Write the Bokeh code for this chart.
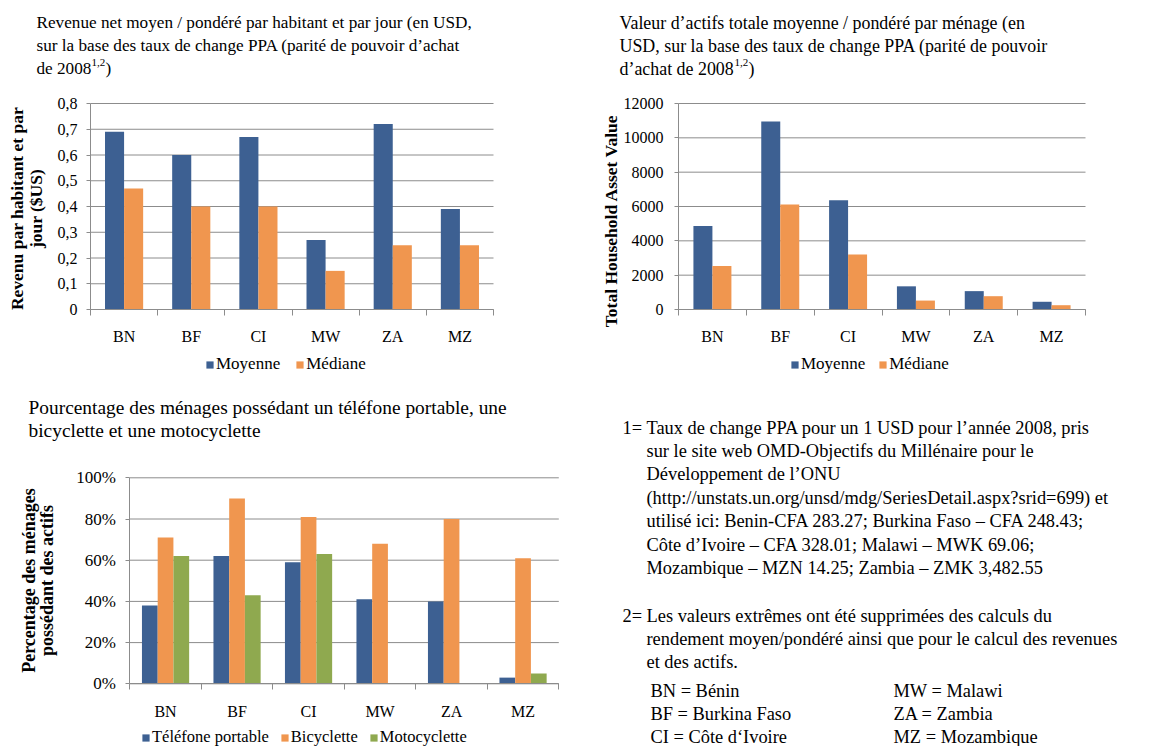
import math
from bokeh.plotting import figure
from bokeh.models import (Range1d, FixedTicker, CustomJSTickFormatter, Label,
                          Legend, LegendItem, ColumnDataSource)
from bokeh.layouts import row, column
from bokeh.embed import file_html
from bokeh.resources import INLINE

FONT = "Liberation Serif"
BLUE = "#3D6092"
ORANGE = "#F0964F"
GREEN = "#8FA94F"
GRID = "#8C8C8C"

# ---------------- data ----------------
COUNTRIES = ["BN", "BF", "CI", "MW", "ZA", "MZ"]

INCOME_MEAN = [0.69, 0.60, 0.67, 0.27, 0.72, 0.39]
INCOME_MEDIAN = [0.47, 0.40, 0.40, 0.15, 0.25, 0.25]

ASSET_MEAN = [4870, 10950, 6370, 1350, 1070, 450]
ASSET_MEDIAN = [2530, 6120, 3200, 520, 775, 250]

PHONE = [38, 62, 59, 41, 40, 3]
BICYCLE = [71, 90, 81, 68, 80, 61]
MOTORBIKE = [62, 43, 63, 0, 0, 5]

LEGEND_INCOME = ["Moyenne", "Médiane"]
LEGEND_ASSETS = ["Moyenne", "Médiane"]
LEGEND_GOODS = ["Téléfone portable", "Bicyclette", "Motocyclette"]

TITLE_INCOME = ["Revenue net moyen / pondéré par habitant et par jour (en USD,",
                "sur la base des taux de change PPA (parité de pouvoir d’achat",
                "de 2008"]
TITLE_ASSETS = ["Valeur d’actifs totale moyenne / pondéré par ménage (en",
                "USD, sur la base des taux de change PPA (parité de pouvoir",
                "d’achat de 2008"]
TITLE_GOODS = ["Pourcentage des ménages possédant un téléfone portable, une",
               "bicyclette et une motocyclette"]
SUPERSCRIPT = "1,2"

YLABEL_INCOME = ["Revenu par habitant et par", "jour ($US)"]
YLABEL_ASSETS = ["Total Household  Asset Value"]
YLABEL_GOODS = ["Percentage des ménages", "possédant des actifs"]

NOTE_1 = ["Taux de change PPA pour un 1 USD pour l’année 2008, pris",
          "sur le site web OMD-Objectifs du Millénaire pour le",
          "Développement de l’ONU",
          "(http://unstats.un.org/unsd/mdg/SeriesDetail.aspx?srid=699) et",
          "utilisé ici: Benin-CFA 283.27; Burkina Faso – CFA 248.43;",
          "Côte d’Ivoire – CFA 328.01; Malawi – MWK 69.06;",
          "Mozambique – MZN 14.25; Zambia – ZMK 3,482.55"]
NOTE_2 = ["Les valeurs extrêmes ont été supprimées des calculs du",
          "rendement moyen/pondéré ainsi que pour le calcul des revenues",
          "et des actifs."]
ABBREV_LEFT = ["BN = Bénin", "BF = Burkina Faso", "CI = Côte d‘Ivoire"]
ABBREV_RIGHT = ["MW = Malawi", "ZA = Zambia", "MZ = Mozambique"]


class Panel:
    """A figure whose frame covers the whole canvas; texts are placed in page pixels."""

    def __init__(self, origin, size, x_range=(0, 1), y_range=(0, 1)):
        self.ox, self.oy = origin
        self.w, self.h = size
        self.p = figure(width=self.w, height=self.h, x_range=Range1d(*x_range),
                        y_range=Range1d(*y_range), toolbar_location=None,
                        output_backend="svg", min_border=0)
        self.p.outline_line_color = None
        self.p.background_fill_color = "white"
        self.p.border_fill_color = "white"

    def sx(self, px):
        return px - self.ox

    def sy(self, py):
        return self.oy + self.h - py

    def text(self, px, py, text, size, bold=False, vertical=False, align="left"):
        self.p.add_layout(Label(x=self.sx(px), y=self.sy(py), x_units="screen",
                                y_units="screen", text=text, text_font=FONT,
                                text_font_size=f"{size}px",
                                text_font_style="bold" if bold else "normal",
                                text_color="black",
                                angle=math.pi / 2 if vertical else 0,
                                text_align="center" if vertical else align,
                                text_baseline="middle"))


def bar_chart(origin, size, box, y_end, y_step, y_code, series, bar_width,
              y_standoff, y_font, x_standoff, legend_pos, legend_spacing, legend_font):
    ox, oy = origin
    w, h = size
    bx0, bx1, by0, by1 = box          # page px of x=0, x=n, y=0, y=y_end
    n = len(COUNTRIES)
    kx = (bx1 - bx0) / n
    ky = (by0 - by1) / y_end
    xr = (-(bx0 - ox) / kx, n + (ox + w - bx1) / kx)
    yr = (-(oy + h - by0) / ky, y_end + (by1 - oy) / ky)
    panel = Panel(origin, size, xr, yr)
    p = panel.p

    n_ticks = int(round(y_end / y_step))
    yticks = [round(i * y_step, 6) for i in range(n_ticks + 1)]
    # horizontal gridlines over the plotting area only
    p.segment(x0=[0] * len(yticks), x1=[n] * len(yticks), y0=yticks, y1=yticks,
              line_color=GRID, line_width=1)

    m = len(series)
    items = []
    for k, (vals, color, label) in enumerate(series):
        off = (k - (m - 1) / 2) * bar_width
        src = ColumnDataSource(dict(x=[i + 0.5 + off for i in range(len(vals))], top=vals))
        r = p.vbar(x="x", top="top", bottom=0, width=bar_width, source=src,
                   fill_color=color, line_color=None)
        items.append(LegendItem(label=label, renderers=[r]))

    p.xgrid.visible = False
    p.ygrid.visible = False

    ya = p.yaxis[0]
    ya.fixed_location = 0
    ya.bounds = (0, y_end)
    ya.ticker = FixedTicker(ticks=yticks, minor_ticks=[])
    ya.formatter = CustomJSTickFormatter(code=y_code)
    ya.axis_line_color = GRID
    ya.major_tick_line_color = GRID
    ya.major_tick_out = 4
    ya.major_tick_in = 0
    ya.minor_tick_line_color = None
    ya.major_label_standoff = y_standoff
    ya.major_label_text_font = FONT
    ya.major_label_text_font_size = f"{y_font}px"
    ya.major_label_text_color = "black"

    xa = p.xaxis[0]
    xa.fixed_location = 0
    xa.bounds = (0, n)
    xa.ticker = FixedTicker(ticks=[i + 0.5 for i in range(n)],
                            minor_ticks=list(range(n + 1)))
    xa.formatter = CustomJSTickFormatter(args=dict(labels=COUNTRIES),
                                         code="return labels[Math.floor(tick)];")
    xa.axis_line_color = GRID
    xa.major_tick_line_color = None
    xa.major_tick_out = 0
    xa.major_tick_in = 0
    xa.minor_tick_line_color = GRID
    xa.minor_tick_out = 6
    xa.minor_tick_in = 0
    xa.major_label_standoff = x_standoff
    xa.major_label_text_font = FONT
    xa.major_label_text_font_size = "16px"
    xa.major_label_text_color = "black"

    lx, ly = legend_pos
    legend = Legend(items=items, orientation="horizontal",
                    location=(panel.sx(lx), panel.sy(ly + 8)),
                    glyph_width=9, glyph_height=9, label_height=16,
                    label_standoff=2, spacing=legend_spacing, padding=0, margin=0,
                    border_line_color=None, background_fill_alpha=0,
                    label_text_font=FONT, label_text_font_size=f"{legend_font}px",
                    label_text_color="black")
    p.add_layout(legend)
    return panel


NOTE_SIZE = 18.4

# -------- chart 1 : income --------
c1 = bar_chart((0, 0), (580, 390), (90, 493, 309, 103), 0.8, 0.1,
               "return tick == 0 ? '0' : tick.toFixed(1).replace('.', ',');",
               [(INCOME_MEAN, BLUE, LEGEND_INCOME[0]),
                (INCOME_MEDIAN, ORANGE, LEGEND_INCOME[1])],
               0.284, 9, 16, 12, (205, 366), 15, 17)
for i, t in enumerate(TITLE_INCOME):
    c1.text(36, 22 + 23 * i, t, 17.2)
c1.text(91, 62, SUPERSCRIPT, 11)
c1.text(105, 68, ")", 17.2)
c1.text(16, 208, YLABEL_INCOME[0], 17.5, bold=True, vertical=True)
c1.text(35, 208, YLABEL_INCOME[1], 17.5, bold=True, vertical=True)

# -------- chart 2 : assets --------
c2 = bar_chart((580, 0), (572, 390), (678, 1085, 309, 103), 12000, 2000,
               "return tick.toFixed(0);",
               [(ASSET_MEAN, BLUE, LEGEND_ASSETS[0]),
                (ASSET_MEDIAN, ORANGE, LEGEND_ASSETS[1])],
               0.28, 11, 16, 12, (790, 366), 13, 17)
for i, t in enumerate(TITLE_ASSETS):
    c2.text(619, 22 + 23 * i, t, 17.9)
c2.text(734, 62, SUPERSCRIPT, 11)
c2.text(748, 68, ")", 17.9)
c2.text(610, 218, YLABEL_ASSETS[0], 17.5, bold=True, vertical=True)

# -------- chart 3 : goods --------
c3 = bar_chart((0, 390), (580, 356), (129.3, 558.3, 683.3, 477.3), 100, 20,
               "return tick.toFixed(0) + '%';",
               [(PHONE, BLUE, LEGEND_GOODS[0]),
                (BICYCLE, ORANGE, LEGEND_GOODS[1]),
                (MOTORBIKE, GREEN, LEGEND_GOODS[2])],
               0.22, 10, 17, 13, (141, 739), 11, 16.5)
for i, t in enumerate(TITLE_GOODS):
    c3.text(28, 407 + 23 * i, t, 19.4)
c3.text(28, 580, YLABEL_GOODS[0], 18, bold=True, vertical=True)
c3.text(46.5, 580, YLABEL_GOODS[1], 18, bold=True, vertical=True)

# -------- notes --------
c4 = Panel((580, 390), (572, 356))
c4.p.xaxis.visible = False
c4.p.yaxis.visible = False
c4.p.grid.visible = False
c4.text(622, 427, "1=", NOTE_SIZE)
for i, t in enumerate(NOTE_1):
    c4.text(646, 427 + 23.4 * i, t, NOTE_SIZE)
c4.text(622, 615, "2=", NOTE_SIZE)
for i, t in enumerate(NOTE_2):
    c4.text(646, 615 + 23.4 * i, t, NOTE_SIZE)
for i, (a, b) in enumerate(zip(ABBREV_LEFT, ABBREV_RIGHT)):
    c4.text(650, 690 + 23.4 * i, a, NOTE_SIZE)
    c4.text(893, 690 + 23.4 * i, b, NOTE_SIZE)

layout = row(column(c1.p, c3.p), column(c2.p, c4.p))
open("out.html", "w").write(file_html(layout, INLINE))
